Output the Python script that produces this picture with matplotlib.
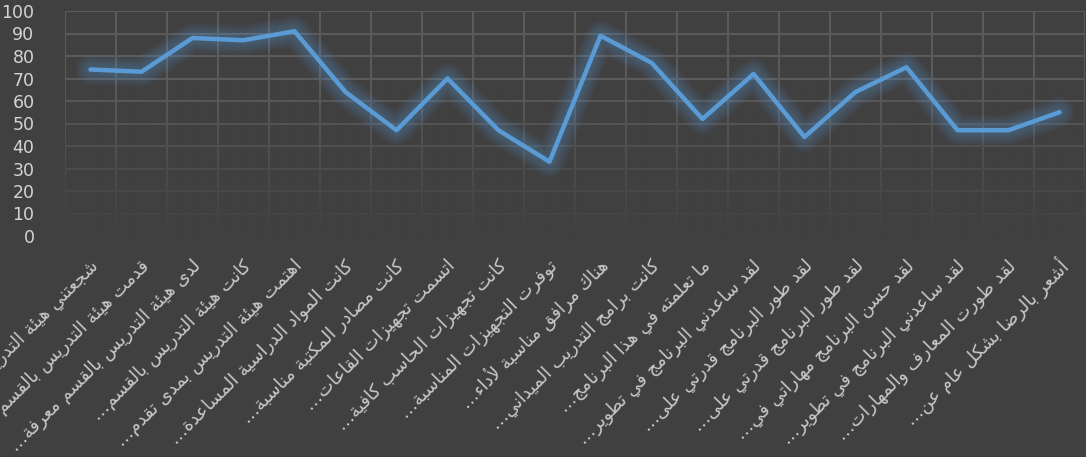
"""
Survey results line chart (Arabic category labels, dark Excel-like style)
"""
import matplotlib
matplotlib.use("Agg")
import matplotlib.pyplot as plt
import numpy as np

# ------------------------------------------------------------------
# Data
# ------------------------------------------------------------------
LABELS = [
    "شجعتني هيئة التدريس بالقسم على…",
    "قدمت هيئة التدريس بالقسم معرفة…",
    "لدى هيئة التدريس بالقسم معرفة…",
    "كانت هيئة التدريس بالقسم…",
    "اهتمت هيئة التدريس بمدى تقدم…",
    "كانت المواد الدراسية المساعدة…",
    "كانت مصادر المكتبة مناسبة…",
    "اتسمت تجهيزات القاعات…",
    "كانت تجهيزات الحاسب كافية…",
    "توفرت التجهيزات المناسبة…",
    "هناك مرافق مناسبة لأداء…",
    "كانت برامج التدريب الميداني…",
    "ما تعلمته في هذا البرنامج…",
    "لقد ساعدني البرنامج في تطوير…",
    "لقد طور البرنامج قدرتي على…",
    "لقد طور البرنامج قدرتي على…",
    "لقد حسن البرنامج مهاراتي في…",
    "لقد ساعدني البرنامج في تطوير…",
    "لقد طورت المعارف والمهارات…",
    "أشعر بالرضا بشكل عام عن…",
]
VALUES = [74, 73, 88, 87, 91, 64, 47, 70, 47, 33,
          89, 77, 52, 72, 44, 64, 75, 47, 47, 55]
Y_TICKS = list(range(0, 101, 10))

BG = "#404040"
GRID = "#5a5a5a"
LINE = "#5B9BD5"
TEXT = "#d4d4d4"

# ------------------------------------------------------------------
# Minimal Arabic shaping (matplotlib has no bidi / joining support)
# ------------------------------------------------------------------
FORMS = {
    "ء": (0xFE80, 1), "آ": (0xFE81, 2), "أ": (0xFE83, 2), "ؤ": (0xFE85, 2),
    "إ": (0xFE87, 2), "ئ": (0xFE89, 4), "ا": (0xFE8D, 2), "ب": (0xFE8F, 4),
    "ة": (0xFE93, 2), "ت": (0xFE95, 4), "ث": (0xFE99, 4), "ج": (0xFE9D, 4),
    "ح": (0xFEA1, 4), "خ": (0xFEA5, 4), "د": (0xFEA9, 2), "ذ": (0xFEAB, 2),
    "ر": (0xFEAD, 2), "ز": (0xFEAF, 2), "س": (0xFEB1, 4), "ش": (0xFEB5, 4),
    "ص": (0xFEB9, 4), "ض": (0xFEBD, 4), "ط": (0xFEC1, 4), "ظ": (0xFEC5, 4),
    "ع": (0xFEC9, 4), "غ": (0xFECD, 4), "ف": (0xFED1, 4), "ق": (0xFED5, 4),
    "ك": (0xFED9, 4), "ل": (0xFEDD, 4), "م": (0xFEE1, 4), "ن": (0xFEE5, 4),
    "ه": (0xFEE9, 4), "و": (0xFEED, 2), "ى": (0xFEEF, 2), "ي": (0xFEF1, 4),
}
LAM_ALEF = {"ا": 0xFEFB, "أ": 0xFEF7, "إ": 0xFEF9, "آ": 0xFEF5}


def _jtype(tok):
    if isinstance(tok, tuple):
        return 2
    return FORMS.get(tok, (0, 0))[1]


def shape_arabic(text):
    tokens = []
    i = 0
    while i < len(text):
        c = text[i]
        if c == "ل" and i + 1 < len(text) and text[i + 1] in LAM_ALEF:
            tokens.append(("LA", text[i + 1]))
            i += 2
        else:
            tokens.append(c)
            i += 1

    out = []
    for k, tok in enumerate(tokens):
        jt = _jtype(tok)
        if jt == 0:
            out.append(tok)
            continue
        prev = tokens[k - 1] if k > 0 else None
        nxt = tokens[k + 1] if k + 1 < len(tokens) else None
        join_prev = prev is not None and _jtype(prev) == 4
        join_next = jt == 4 and nxt is not None and _jtype(nxt) in (2, 4)
        if isinstance(tok, tuple):
            out.append(chr(LAM_ALEF[tok[1]] + (1 if join_prev else 0)))
            continue
        base, n = FORMS[tok]
        if n == 1:
            idx = 0
        elif n == 2:
            idx = 1 if join_prev else 0
        else:
            idx = {(False, False): 0, (True, False): 1,
                   (False, True): 2, (True, True): 3}[(join_prev, join_next)]
        out.append(chr(base + idx))
    return "".join(out)[::-1]


# ------------------------------------------------------------------
# Figure
# ------------------------------------------------------------------
fig = plt.figure(figsize=(10.86, 4.57), dpi=100, facecolor=BG)
ax = fig.add_axes([65 / 1086, 1 - 236 / 457, 1020 / 1086, 225 / 457])
ax.set_facecolor(BG)

n = len(VALUES)
x = np.arange(n)
ax.set_xlim(-0.5, n - 0.5)
ax.set_ylim(0, 100)

# grid (drawn by hand so it can sit under a fade overlay)
for yv in Y_TICKS:
    ax.axhline(yv, color=GRID, lw=1.5, zorder=1)
for xv in np.arange(-0.5, n, 1.0):
    ax.axvline(xv, color=GRID, lw=1.5, zorder=1)

# fade the grid toward the bottom
fade = np.clip((70 - np.linspace(0, 100, 200)) / 70, 0, 1) ** 1.1
rgba = np.zeros((200, 1, 4))
rgba[..., :3] = matplotlib.colors.to_rgb(BG)
rgba[:, 0, 3] = fade
ax.imshow(rgba, extent=[-0.5, n - 0.5, 0, 100], origin="lower",
          aspect="auto", zorder=2, interpolation="bilinear")

# glow + line
for lw in np.linspace(22, 6, 9):
    ax.plot(x, VALUES, color=LINE, lw=lw, alpha=0.045,
            solid_capstyle="round", solid_joinstyle="round", zorder=3)
ax.plot(x, VALUES, color=LINE, lw=3.2, solid_capstyle="round",
        solid_joinstyle="round", zorder=4)

for s in ax.spines.values():
    s.set_visible(False)

ax.set_yticks(Y_TICKS)
ax.tick_params(axis="y", length=0, pad=22, labelsize=12.5, labelcolor=TEXT)
ax.set_xticks([])

for i, lab in enumerate(LABELS):
    ax.text(i + 0.1, -0.12, shape_arabic(lab), transform=ax.get_xaxis_transform(),
            rotation=45, rotation_mode="anchor", ha="right", va="center",
            fontsize=13, color="#c8c8c8", family="DejaVu Sans", clip_on=False)

fig.savefig("out.png", dpi=100, facecolor=BG)
